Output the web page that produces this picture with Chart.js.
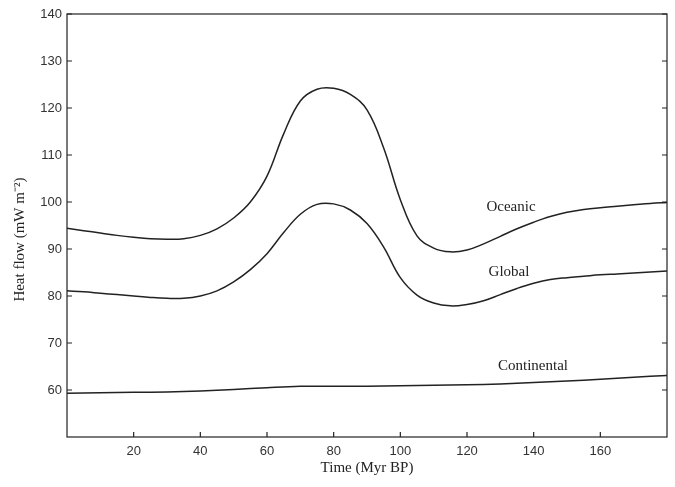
<!DOCTYPE html>
<html>
<head>
<meta charset="utf-8">
<script src="https://cdn.jsdelivr.net/npm/chart.js@4/dist/chart.umd.min.js"></script>
<style>
  html, body { margin: 0; padding: 0; background: #fff; }
</style>
</head>
<body>
<canvas id="chart" width="675" height="487"></canvas>
<script>
// Heat flow through time
const years = [0, 5, 10, 15, 20, 25, 30, 35, 40, 45, 50, 55, 60, 65, 70, 75, 80, 85, 90,
  95, 100, 105, 110, 115, 120, 125, 130, 135, 140, 145, 150, 155, 160, 165, 170, 175, 180];

const oceanic = [94.4, 93.9, 93.4, 92.9, 92.5, 92.2, 92.1, 92.2, 92.9, 94.3, 96.6, 100.0, 105.5,
  114.5, 121.5, 124.0, 124.2, 122.9, 119.6, 111.5, 100.5, 92.8, 90.2, 89.4, 89.8, 91.1, 92.7,
  94.3, 95.7, 96.9, 97.8, 98.4, 98.8, 99.1, 99.4, 99.7, 99.9];

const global = [81.1, 80.9, 80.6, 80.3, 80.0, 79.7, 79.5, 79.5, 80.0, 81.1, 83.0, 85.6, 89.0,
  93.5, 97.4, 99.5, 99.6, 98.3, 95.4, 90.4, 83.9, 80.2, 78.5, 77.9, 78.2, 79.0, 80.3,
  81.6, 82.7, 83.5, 83.9, 84.2, 84.5, 84.7, 84.9, 85.1, 85.3];

const contYears = [0, 10, 20, 30, 40, 50, 60, 70, 80, 90, 100, 110, 120, 130, 140, 150, 160, 170, 180];
const continental = [59.3, 59.4, 59.5, 59.6, 59.8, 60.1, 60.5, 60.8, 60.8, 60.8, 60.9, 61.0,
  61.1, 61.3, 61.6, 61.9, 62.3, 62.7, 63.1];

const xTicks = [20, 40, 60, 80, 100, 120, 140, 160];
const yTicks = [60, 70, 80, 90, 100, 110, 120, 130, 140];

// curve names and where they sit (data coords)
const labelNames = ["Oceanic", "Global", "Continental"];
const labelX = [133.2, 132.6, 139.8];
const labelY = [98.9, 85.1, 65.1];

const yTitle = "Heat flow (mW m⁻²)";
const INK = "#222";

function pts(xs, ys) {
  return xs.map((x, i) => ({ x: x, y: ys[i] }));
}

function lineSet(label, xs, ys) {
  return {
    label: label,
    data: pts(xs, ys),
    borderColor: INK,
    borderWidth: 1.5,
    pointRadius: 0,
    fill: false,
    tension: 0.4
  };
}

// box round the plot with short ticks pointing inwards, plus curve names
const framePlugin = {
  id: "frame",
  afterDatasetsDraw(chart) {
    const { ctx, chartArea: a, scales } = chart;
    const xs = scales.x, ys = scales.y;
    const len = 5;
    ctx.save();
    ctx.strokeStyle = INK;
    ctx.lineWidth = 1.2;
    ctx.strokeRect(a.left, a.top, a.right - a.left, a.bottom - a.top);
    ctx.beginPath();
    yTicks.forEach((v) => {
      const p = ys.getPixelForValue(v);
      ctx.moveTo(a.left, p); ctx.lineTo(a.left + len, p);
      ctx.moveTo(a.right, p); ctx.lineTo(a.right - len, p);
    });
    xTicks.forEach((v) => {
      const p = xs.getPixelForValue(v);
      ctx.moveTo(p, a.bottom); ctx.lineTo(p, a.bottom - len);
    });
    ctx.stroke();

    ctx.fillStyle = INK;
    ctx.font = "15px 'Liberation Serif'";
    ctx.textAlign = "center";
    ctx.textBaseline = "middle";
    labelNames.forEach((name, i) => {
      ctx.fillText(name, xs.getPixelForValue(labelX[i]), ys.getPixelForValue(labelY[i]));
    });

    // y title sits a little below the middle of the axis in the original
    ctx.translate(20, ys.getPixelForValue(92));
    ctx.rotate(-Math.PI / 2);
    ctx.fillText(yTitle, 0, 0);
    ctx.restore();
  }
};

const tickFont = { family: "'Liberation Sans'", size: 13 };
const titleFont = { family: "'Liberation Serif'", size: 15 };

new Chart(document.getElementById("chart"), {
  type: "line",
  data: {
    datasets: [
      lineSet("Oceanic", years, oceanic),
      lineSet("Global", years, global),
      lineSet("Continental", contYears, continental)
    ]
  },
  options: {
    responsive: false,
    animation: false,
    layout: { padding: { left: 0, right: 8, top: 14, bottom: 0 } },
    plugins: {
      legend: { display: false },
      tooltip: { enabled: false }
    },
    scales: {
      x: {
        type: "linear",
        min: 0,
        max: 180,
        afterBuildTicks: (s) => { s.ticks = xTicks.map((v) => ({ value: v })); },
        afterFit: (s) => { s.height = 50; },
        grid: { display: false, drawTicks: false },
        border: { display: false },
        ticks: { padding: 7, color: "#333", font: tickFont, maxRotation: 0, autoSkip: false },
        title: {
          display: true,
          text: "Time (Myr BP)",
          color: INK,
          font: titleFont,
          padding: { top: 0, bottom: 10 }
        }
      },
      y: {
        min: 50,
        max: 140,
        afterBuildTicks: (s) => { s.ticks = yTicks.map((v) => ({ value: v })); },
        afterFit: (s) => { s.width = 67; },
        grid: { display: false, drawTicks: false },
        border: { display: false },
        ticks: { padding: 5, color: "#333", font: tickFont, autoSkip: false },
        title: { display: false }
      }
    }
  },
  plugins: [framePlugin]
});
</script>
</body>
</html>
